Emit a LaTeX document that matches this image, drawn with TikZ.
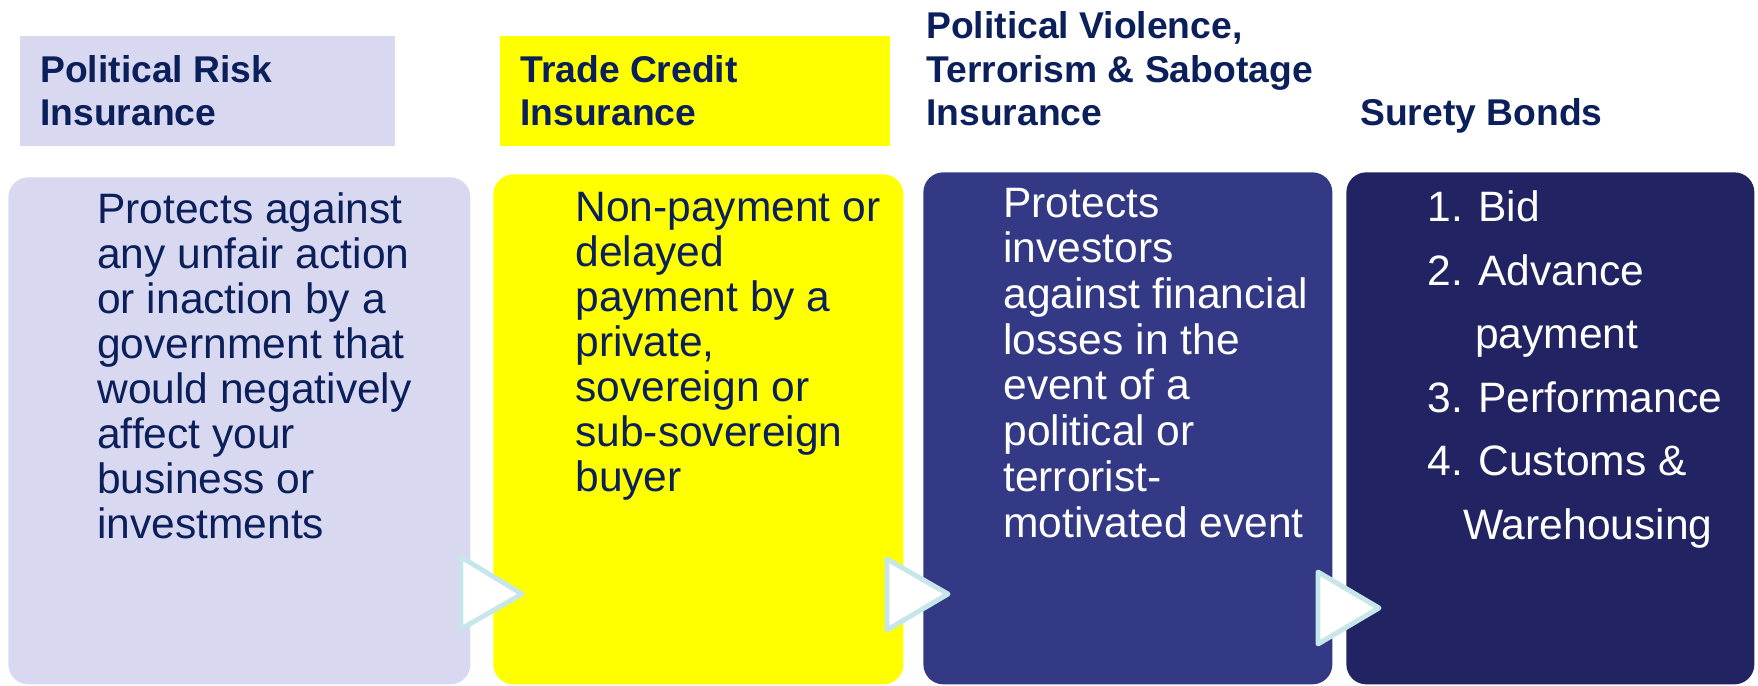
\documentclass[tikz,border=0pt]{standalone}
\usepackage{fontspec}
\setmainfont{Liberation Sans}
\usepackage{xcolor}
\usepackage{tikz}
\usetikzlibrary{positioning}
\tikzset{c-head/.style={rectangle, anchor=north west, minimum height=2.2cm, inner sep=0pt},
c-body/.style={rectangle, anchor=north west, rounded corners=0.4cm, inner sep=0pt},
c-title/.style={anchor=base west, inner sep=0pt, align=left, text=c_navy, font=\bfseries\fontsize{21.2}{25}\selectfont},
c-text/.style={anchor=base west, inner sep=0pt, align=left, font=\fontsize{24.2}{25.6}\selectfont},
chevron/.style={draw=c_tri, fill=white, line width=2.8pt, line join=round}}
\definecolor{c_navy}{HTML}{0B1F5A}
\definecolor{c_lav}{HTML}{D8D8F1}
\definecolor{c_yel}{HTML}{FFFF00}
\definecolor{c_purple}{HTML}{343985}
\definecolor{c_dark}{HTML}{212362}
\definecolor{c_tri}{HTML}{C6E6EA}
\begin{document}
\begin{tikzpicture}
\useasboundingbox (0,0) rectangle (35.16,-13.72);
% headers
\node (hd1) [c-head, minimum width=7.5cm, fill=c_lav] at (0.40,-0.72) {};
\node (hd2) [c-head, minimum width=7.8cm, fill=c_yel] at (10.00,-0.72) {};
\node (ht1) [c-title] at (0.80,-2.52) {Political Risk\\Insurance};
\node (ht2) [c-title] at (10.40,-2.52) {Trade Credit\\Insurance};
\node (ht3) [c-title] at (18.52,-2.52) {Political Violence,\\Terrorism \& Sabotage\\Insurance};
\node (ht4) [c-title] at (27.20,-2.52) {Surety Bonds};
% bodies
\node (b1) [c-body, minimum width=9.24cm, minimum height=10.14cm, fill=c_lav] at (0.16,-3.54) {};
\node (b2) [c-body, minimum width=8.20cm, minimum height=10.20cm, fill=c_yel] at (9.86,-3.48) {};
\node (b3) [c-body, minimum width=8.18cm, minimum height=10.24cm, fill=c_purple] at (18.46,-3.44) {};
\node (b4) [c-body, minimum width=8.16cm, minimum height=10.24cm, fill=c_dark] at (26.92,-3.44) {};
\node (t1) [c-text, text=c_navy] at (1.94,-10.76) {
Protects against\\any unfair action\\or inaction by a\\government that\\would negatively\\affect your\\business or\\investments
};
\node (t2) [c-text, text=c_navy] at (11.50,-9.82) {
Non-payment or\\delayed\\payment by a\\private,\\sovereign or\\sub-sovereign\\buyer
};
\node (t3) [c-text, text=white, font=\fontsize{24.2}{26}\selectfont] at (20.06,-10.74) {
Protects\\investors\\against financial\\losses in the\\event of a\\political or\\terrorist-\\motivated event
};
\node (t4) [c-text, text=white, font=\fontsize{24.2}{36.1}\selectfont] at (28.54,-10.78) {
1. Bid\\2. Advance\\\hspace*{27.3pt}payment\\3. Performance\\4. Customs \&\\\hspace*{20.5pt}Warehousing
};
% chevrons between the boxes
\draw [chevron] (9.22,-11.14) -- (10.44,-11.88) -- (9.22,-12.58) -- cycle;
\draw [chevron] (17.74,-11.18) -- (18.96,-11.88) -- (17.74,-12.60) -- cycle;
\draw [chevron] (26.36,-11.44) -- (27.58,-12.16) -- (26.36,-12.88) -- cycle;
\end{tikzpicture}
\end{document}
